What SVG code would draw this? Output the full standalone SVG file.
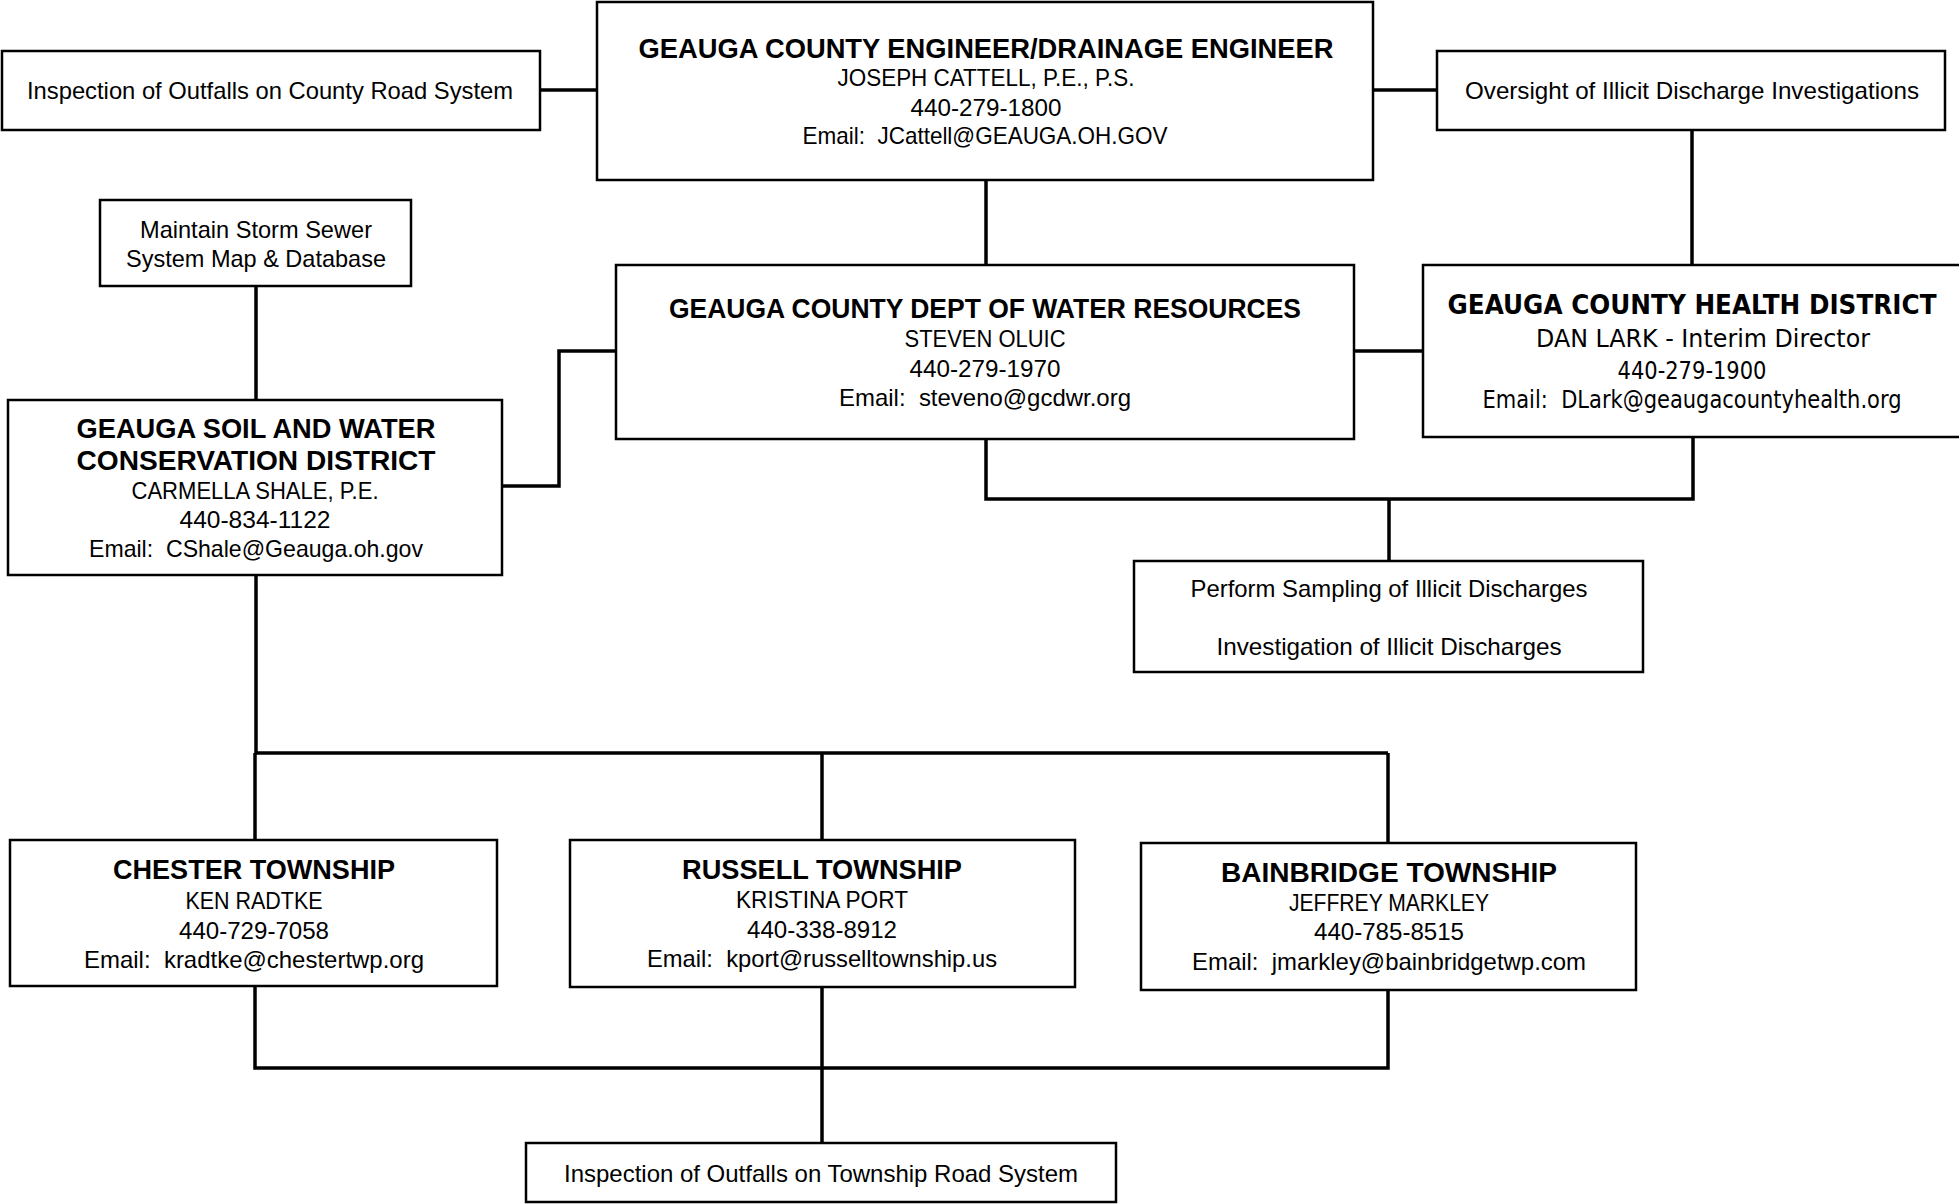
<svg xmlns="http://www.w3.org/2000/svg" width="1959" height="1204" viewBox="0 0 1959 1204">
<style>
.box{fill:#fff;stroke:#000;stroke-width:2.5}
.t{font-family:"Liberation Sans Narrow","Liberation Sans",Arial,sans-serif;font-size:24px;fill:#000;text-anchor:middle}
.b{font-family:"Liberation Sans Narrow","Liberation Sans",Arial,sans-serif;font-size:27px;font-weight:bold;fill:#000;text-anchor:middle}
.v{font-family:"DejaVu Sans","Liberation Sans",sans-serif}
.c{fill:none;stroke:#000;stroke-width:3.5}
</style>
<rect width="1959" height="1204" fill="#fff"/>
<g id="connectors">
<path class="c" d="M540 90 H597"/>
<path class="c" d="M1373 90 H1437"/>
<path class="c" d="M1692 130 V265"/>
<path class="c" d="M986 180 V265"/>
<path class="c" d="M256 286 V400"/>
<path class="c" d="M502 486 H559 V351 H616"/>
<path class="c" d="M1354 351 H1423"/>
<path class="c" d="M986 439 V499 H1693 V437"/>
<path class="c" d="M1389 499 V561"/>
<path class="c" d="M256 575 V753"/>
<path class="c" d="M255 753 H1388"/>
<path class="c" d="M255 753 V840"/>
<path class="c" d="M822 753 V840"/>
<path class="c" d="M1388 753 V843"/>
<path class="c" d="M255 986 V1068 H1388 V990"/>
<path class="c" d="M822 987 V1143"/>
</g>
<g id="county-road">
<rect class="box" x="2" y="51" width="538" height="79"/>
<text class="t" x="270" y="99" textLength="486" lengthAdjust="spacingAndGlyphs">Inspection of Outfalls on County Road System</text>
</g>
<g id="engineer">
<rect class="box" x="597" y="2" width="776" height="178"/>
<text class="b" x="986" y="58" textLength="695" lengthAdjust="spacingAndGlyphs">GEAUGA COUNTY ENGINEER/DRAINAGE ENGINEER</text>
<text class="t" x="986" y="86" textLength="297" lengthAdjust="spacingAndGlyphs">JOSEPH CATTELL, P.E., P.S.</text>
<text class="t" x="986" y="116" textLength="151" lengthAdjust="spacingAndGlyphs">440-279-1800</text>
<text class="t" x="985" y="144" textLength="365" lengthAdjust="spacingAndGlyphs" xml:space="preserve">Email:  JCattell@GEAUGA.OH.GOV</text>
</g>
<g id="oversight">
<rect class="box" x="1437" y="51" width="508" height="79"/>
<text class="t" x="1692" y="99" textLength="454" lengthAdjust="spacingAndGlyphs">Oversight of Illicit Discharge Investigations</text>
</g>
<g id="storm-sewer">
<rect class="box" x="100" y="200" width="311" height="86"/>
<text class="t" x="256" y="238" textLength="232" lengthAdjust="spacingAndGlyphs">Maintain Storm Sewer</text>
<text class="t" x="256" y="267" textLength="260" lengthAdjust="spacingAndGlyphs">System Map &amp; Database</text>
</g>
<g id="soil-water">
<rect class="box" x="8" y="400" width="494" height="175"/>
<text class="b" x="256" y="438" textLength="359" lengthAdjust="spacingAndGlyphs">GEAUGA SOIL AND WATER</text>
<text class="b" x="256" y="470" textLength="359" lengthAdjust="spacingAndGlyphs">CONSERVATION DISTRICT</text>
<text class="t" x="255" y="499" textLength="247" lengthAdjust="spacingAndGlyphs">CARMELLA SHALE, P.E.</text>
<text class="t" x="255" y="528" textLength="151" lengthAdjust="spacingAndGlyphs">440-834-1122</text>
<text class="t" x="256" y="557" textLength="334" lengthAdjust="spacingAndGlyphs" xml:space="preserve">Email:  CShale@Geauga.oh.gov</text>
</g>
<g id="water-resources">
<rect class="box" x="616" y="265" width="738" height="174"/>
<text class="b" x="985" y="318" textLength="632" lengthAdjust="spacingAndGlyphs">GEAUGA COUNTY DEPT OF WATER RESOURCES</text>
<text class="t" x="985" y="347" textLength="161" lengthAdjust="spacingAndGlyphs">STEVEN OLUIC</text>
<text class="t" x="985" y="377" textLength="151" lengthAdjust="spacingAndGlyphs">440-279-1970</text>
<text class="t" x="985" y="406" textLength="292" lengthAdjust="spacingAndGlyphs" xml:space="preserve">Email:  steveno@gcdwr.org</text>
</g>
<g id="health">
<rect class="box" x="1423" y="265" width="545" height="172"/>
<text class="b v" x="1692" y="314" textLength="489" lengthAdjust="spacingAndGlyphs">GEAUGA COUNTY HEALTH DISTRICT</text>
<text class="t v" x="1703" y="347" textLength="334" lengthAdjust="spacingAndGlyphs">DAN LARK - Interim Director</text>
<text class="t v" x="1692" y="379" textLength="149" lengthAdjust="spacingAndGlyphs">440-279-1900</text>
<text class="t v" x="1692" y="408" textLength="419" lengthAdjust="spacingAndGlyphs" xml:space="preserve">Email:  DLark@geaugacountyhealth.org</text>
</g>
<g id="sampling">
<rect class="box" x="1134" y="561" width="509" height="111"/>
<text class="t" x="1389" y="597" textLength="397" lengthAdjust="spacingAndGlyphs">Perform Sampling of Illicit Discharges</text>
<text class="t" x="1389" y="655" textLength="345" lengthAdjust="spacingAndGlyphs">Investigation of Illicit Discharges</text>
</g>
<g id="chester">
<rect class="box" x="10" y="840" width="487" height="146"/>
<text class="b" x="254" y="879" textLength="282" lengthAdjust="spacingAndGlyphs">CHESTER TOWNSHIP</text>
<text class="t" x="254" y="909" textLength="137" lengthAdjust="spacingAndGlyphs">KEN RADTKE</text>
<text class="t" x="254" y="939" textLength="150" lengthAdjust="spacingAndGlyphs">440-729-7058</text>
<text class="t" x="254" y="968" textLength="340" lengthAdjust="spacingAndGlyphs" xml:space="preserve">Email:  kradtke@chestertwp.org</text>
</g>
<g id="russell">
<rect class="box" x="570" y="840" width="505" height="147"/>
<text class="b" x="822" y="879" textLength="280" lengthAdjust="spacingAndGlyphs">RUSSELL TOWNSHIP</text>
<text class="t" x="822" y="908" textLength="172" lengthAdjust="spacingAndGlyphs">KRISTINA PORT</text>
<text class="t" x="822" y="938" textLength="150" lengthAdjust="spacingAndGlyphs">440-338-8912</text>
<text class="t" x="822" y="967" textLength="350" lengthAdjust="spacingAndGlyphs" xml:space="preserve">Email:  kport@russelltownship.us</text>
</g>
<g id="bainbridge">
<rect class="box" x="1141" y="843" width="495" height="147"/>
<text class="b" x="1389" y="882" textLength="336" lengthAdjust="spacingAndGlyphs">BAINBRIDGE TOWNSHIP</text>
<text class="t" x="1389" y="911" textLength="200" lengthAdjust="spacingAndGlyphs">JEFFREY MARKLEY</text>
<text class="t" x="1389" y="940" textLength="150" lengthAdjust="spacingAndGlyphs">440-785-8515</text>
<text class="t" x="1389" y="970" textLength="394" lengthAdjust="spacingAndGlyphs" xml:space="preserve">Email:  jmarkley@bainbridgetwp.com</text>
</g>
<g id="township-road">
<rect class="box" x="526" y="1143" width="590" height="59"/>
<text class="t" x="821" y="1182" textLength="514" lengthAdjust="spacingAndGlyphs">Inspection of Outfalls on Township Road System</text>
</g>
</svg>
